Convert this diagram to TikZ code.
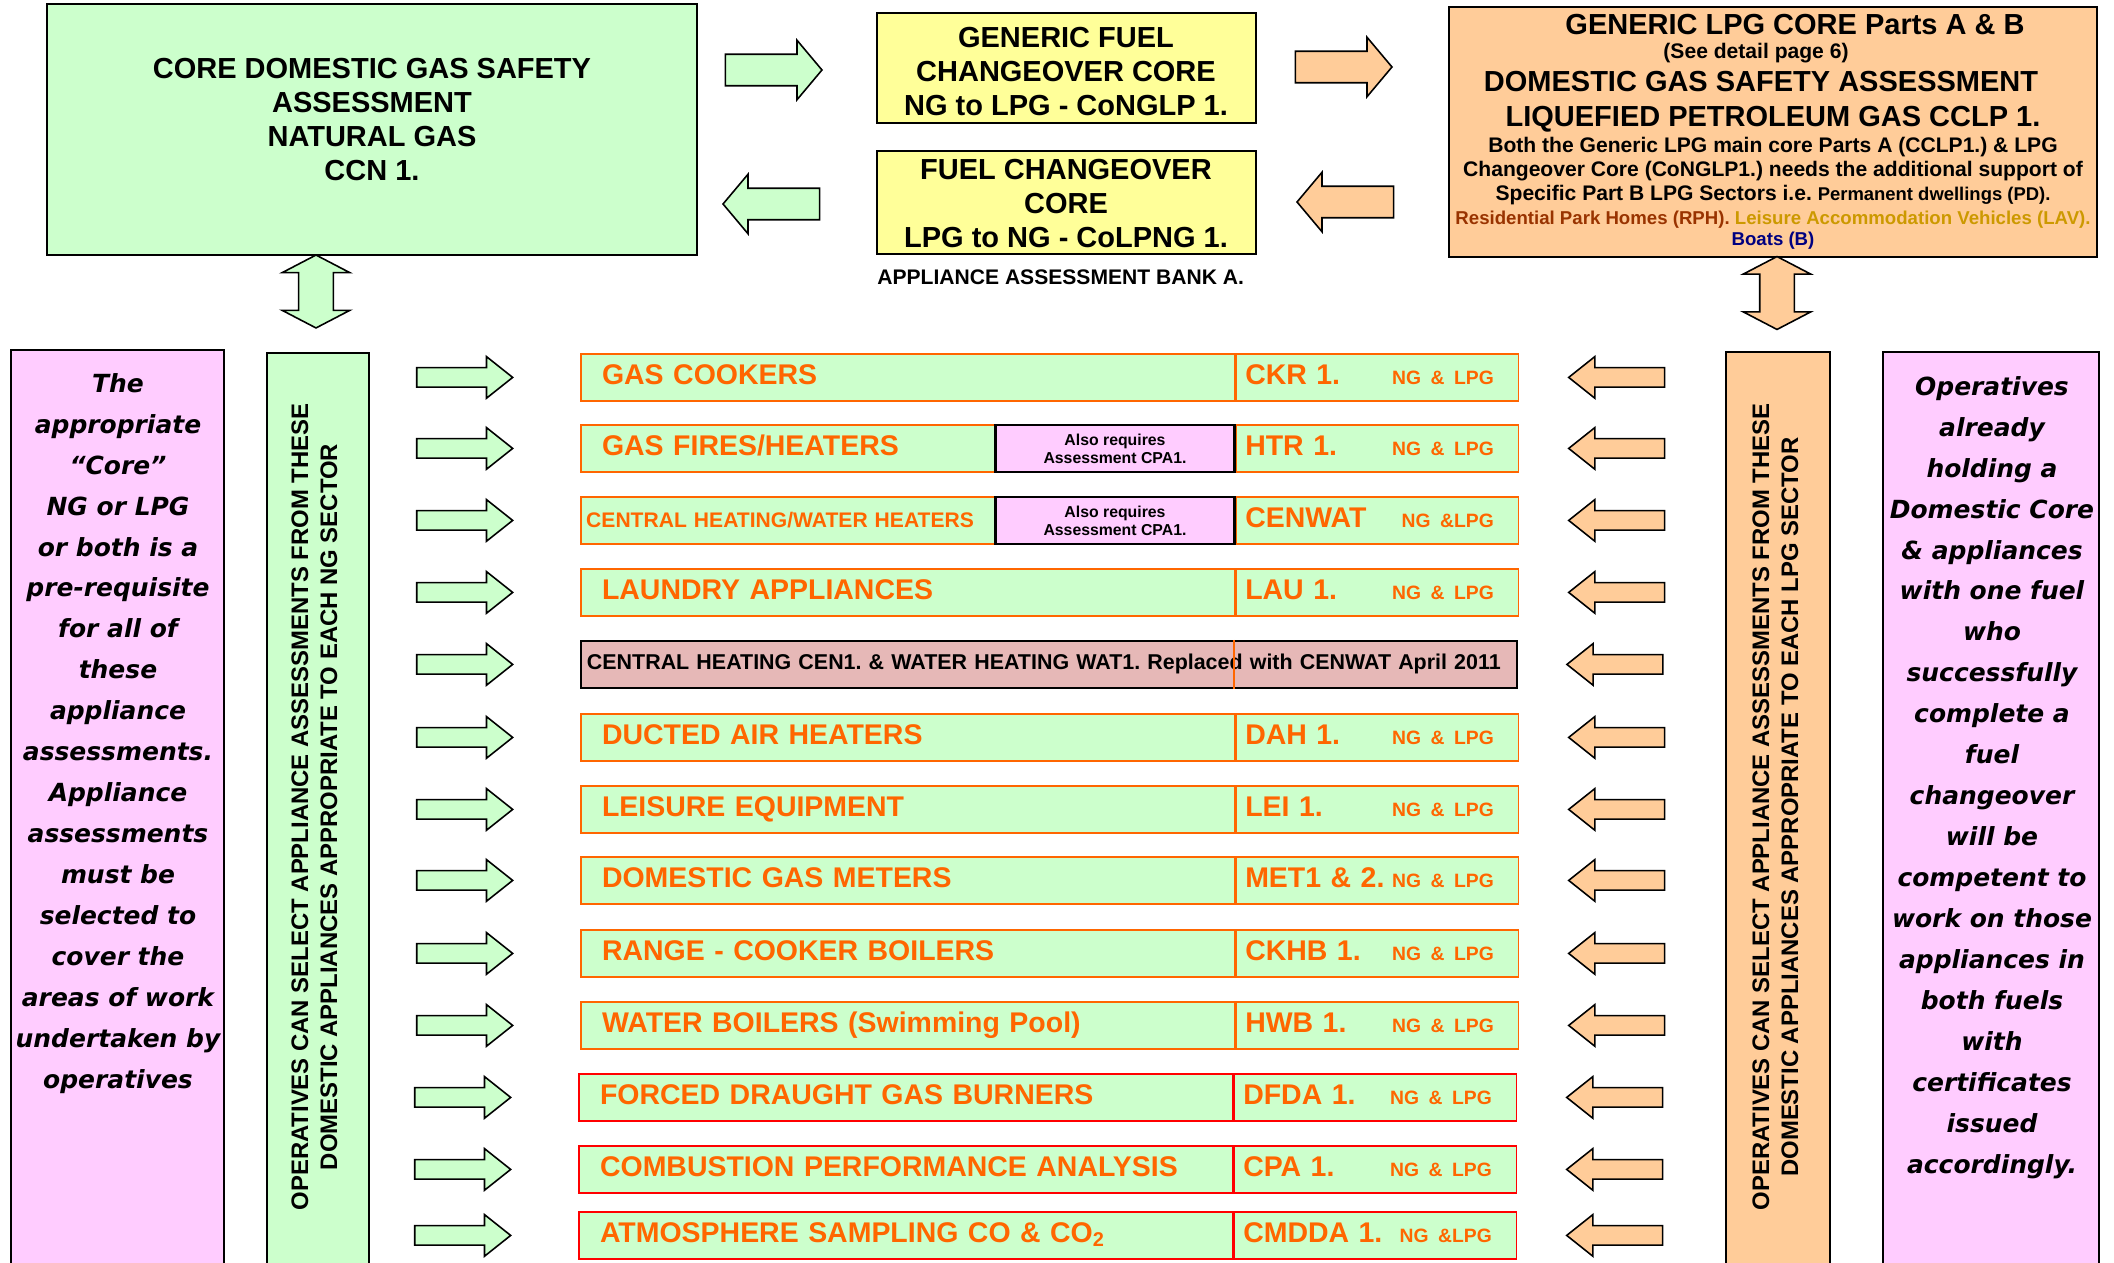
\documentclass[tikz,border=0pt]{standalone}
\usepackage{fontspec}
\setmainfont{Liberation Sans}
\newfontfamily\handfont{DejaVu Sans}
\usetikzlibrary{shapes.arrows, positioning, fit}

\definecolor{coregreen}{HTML}{CCFFCC}
\definecolor{coreyellow}{HTML}{FFFF99}
\definecolor{lpgorange}{HTML}{FFCC99}
\definecolor{notepink}{HTML}{FFCCFF}
\definecolor{oldrose}{HTML}{E6B8B7}
\definecolor{roworange}{HTML}{FF6600}
\definecolor{rowred}{HTML}{FF0000}
\definecolor{rphbrown}{HTML}{993300}
\definecolor{lavgold}{HTML}{CC9900}
\definecolor{boatblue}{HTML}{000080}

\newcommand{\fuels}[1]{\hfill{\fontsize{11}{13}\selectfont #1}\hspace*{9pt}}
\frenchspacing

\begin{document}
\begin{tikzpicture}[
    x=0.02cm, y=-0.02cm,
    box/.style={draw, line width=0.9pt, inner sep=0pt},
    bigtext/.style={font=\bfseries\fontsize{16.5}{19.3}\selectfont, align=center},
    bigarrow/.style={single arrow, draw, line width=0.9pt, inner xsep=0pt, inner ysep=8.5pt,
        single arrow head extend=8pt, single arrow tip angle=100, minimum height=55pt},
    uparrow/.style={double arrow, draw, line width=0.9pt, inner xsep=0pt, inner ysep=9.4pt,
        double arrow head extend=9.4pt, double arrow tip angle=125, minimum height=41.5pt, rotate=90},
    rowarrow/.style={single arrow, draw, line width=0.9pt, inner xsep=0pt, inner ysep=5.1pt,
        single arrow head extend=6.3pt, single arrow tip angle=77, minimum height=54.6pt},
    ngarrow/.style={rowarrow, fill=coregreen, left=37.6pt of #1},
    lparrow/.style={rowarrow, fill=lpgorange, shape border rotate=180, right=27.3pt of #1},
    item/.style={draw=roworange, line width=1.1pt, fill=coregreen, text=roworange,
        minimum height=26.7pt, text height=11.6pt, text depth=4pt, align=left},
    itemname/.style={item, anchor=north west, minimum width=372pt, inner xsep=12pt,
        text width=348pt, font=\bfseries\fontsize{16.2}{19}\selectfont},
    smallname/.style={inner xsep=3pt, text width=366pt, font=\bfseries\fontsize{12}{14}\selectfont},
    itemcode/.style={item, right=0pt of #1, minimum width=160.5pt, inner xsep=5pt,
        text width=150.5pt, font=\bfseries\fontsize{16.2}{19}\selectfont},
    redrow/.style={draw=rowred},
    cpabox/.style={draw=black, line width=1.2pt, fill=notepink, anchor=east, minimum width=136pt,
        minimum height=26.7pt, inner sep=0pt, align=center, font=\bfseries\fontsize{9}{10.2}\selectfont},
    oldrow/.style={draw=black, line width=1.1pt, fill=oldrose, anchor=north west, minimum width=532.6pt,
        minimum height=26.7pt, inner xsep=3.4pt, text width=525.8pt, align=left,
        text height=8.7pt, text depth=3pt, font=\bfseries\fontsize{12.2}{14}\selectfont},
    notetext/.style={font=\handfont\bfseries\itshape\fontsize{14.2}{23.3}\selectfont,
        align=center, inner sep=0pt, anchor=north},
    vtext/.style={rotate=90, align=center, font=\bfseries\fontsize{13.6}{16.5}\selectfont},
    lpgline/.style={anchor=base, inner sep=0pt, font=\bfseries\fontsize{12}{14}\selectfont},
    lpgbig/.style={font=\bfseries\fontsize{16.5}{19}\selectfont}
]

\fill[white] (0,0) rectangle (2114,1263);
\useasboundingbox (0,0) rectangle (2114,1263);

% === CORES ===

% natural gas core
\node[box, fill=coregreen, fit={(47,4) (697,255)}] (ccn) {};
\node[bigtext] (ccntext) at (372,119.5) {CORE DOMESTIC GAS SAFETY\\ASSESSMENT\\NATURAL GAS\\CCN 1.};

% changeover cores
\node[box, fill=coreyellow, fit={(877,13) (1256,123)}] (conglp) {};
\node[bigtext] (conglptext) at (1066,71.5) {GENERIC FUEL\\CHANGEOVER CORE\\NG to LPG - CoNGLP 1.};
\node[box, fill=coreyellow, fit={(877,151) (1256,254)}] (colpng) {};
\node[bigtext] (colpngtext) at (1066,203.5) {FUEL CHANGEOVER\\CORE\\LPG to NG - CoLPNG 1.};
\node[anchor=west, inner sep=0pt, font=\bfseries\fontsize{12}{14}\selectfont] (bank) at (877,277) {APPLIANCE ASSESSMENT BANK A.};

% LPG core
\node[box, fill=lpgorange, fit={(1449,7) (2097,257)}] (lpg) {};
\node[lpgline, lpgbig] (lpgtitle) at (1795,35) {GENERIC LPG CORE Parts A \& B};
\node[lpgline] (lpgsee) at (1756,59) {(See detail page 6)};
\node[lpgline, lpgbig] (lpgdgsa) at (1761,92) {DOMESTIC GAS SAFETY ASSESSMENT};
\node[lpgline, lpgbig] (lpgcclp) at (1773,127) {LIQUEFIED PETROLEUM GAS CCLP 1.};
\node[lpgline] (lpgboth) at (1773,153) {Both the Generic LPG main core Parts A (CCLP1.) \& LPG};
\node[lpgline] (lpgchange) at (1773,177) {Changeover Core (CoNGLP1.) needs the additional support of};
\node[lpgline] (lpgspec) at (1773,201) {Specific Part B LPG Sectors i.e. {\fontsize{10.5}{12}\selectfont Permanent dwellings (PD).}};
\node[lpgline, font=\bfseries\fontsize{10.6}{12}\selectfont] (lpgsect) at (1773,225) {\textcolor{rphbrown}{Residential Park Homes (RPH).} \textcolor{lavgold}{Leisure Accommodation Vehicles (LAV).}};
\node[lpgline, font=\bfseries\fontsize{10.6}{12}\selectfont, text=boatblue] (lpgboats) at (1773,246) {Boats (B)};

% block arrows between cores
\node[bigarrow, fill=coregreen, anchor=tip] (ngto) at (823,70) {};
\node[bigarrow, fill=coregreen, shape border rotate=180, anchor=tip] (ngfrom) at (722,204) {};
\node[bigarrow, fill=lpgorange, anchor=tip] (lpgto) at (1393,67) {};
\node[bigarrow, fill=lpgorange, shape border rotate=180, anchor=tip] (lpgfrom) at (1296,202) {};
\node[uparrow, fill=coregreen] (ngboth) at (316,291.5) {};
\node[uparrow, fill=lpgorange] (lpgboth) at (1777,293) {};

% === SIDE COLUMNS ===

\node[box, fill=notepink, fit={(11,350) (224,1290)}] (ngnote) {};
\node[notetext] (ngnotetext) at (118,373) {The\\appropriate\\“Core”\\NG or LPG\\or both is a\\pre-requisite\\for all of\\these\\appliance\\assessments.\\Appliance\\assessments\\must be\\selected to\\cover the\\areas of work\\undertaken by\\operatives};

\node[box, fill=coregreen, fit={(267,353) (369,1290)}] (ngsector) {};
\node[vtext] (ngsectortext) at (314.5,807) {OPERATIVES CAN SELECT APPLIANCE ASSESSMENTS FROM THESE\\DOMESTIC APPLIANCES APPROPRIATE TO EACH NG SECTOR};

\node[box, fill=lpgorange, fit={(1726,352) (1830,1290)}] (lpgsector) {};
\node[vtext] (lpgsectortext) at (1775.5,807) {OPERATIVES CAN SELECT APPLIANCE ASSESSMENTS FROM THESE\\DOMESTIC APPLIANCES APPROPRIATE TO EACH LPG SECTOR};

\node[box, fill=notepink, fit={(1883,352) (2099,1290)}] (lpgnote) {};
\node[notetext] (lpgnotetext) at (1992,376) {Operatives\\already\\holding a\\Domestic Core\\\& appliances\\with one fuel\\who\\successfully\\complete a\\fuel\\changeover\\will be\\competent to\\work on those\\appliances in\\both fuels\\with\\certificates\\issued\\accordingly.};

% === APPLIANCE ASSESSMENTS ===

% cookers
\node[itemname] (ckr) at (580,353) {GAS COOKERS};
\node[itemcode=ckr] (ckrcode) {CKR 1.\fuels{NG \& LPG}};
\node[ngarrow=ckr] (ckrng) {};
\node[lparrow=ckrcode] (ckrlpg) {};

% fires
\node[itemname] (htr) at (580,424) {GAS FIRES/HEATERS};
\node[cpabox] (htrcpa) at (htr.east) {Also requires\\Assessment CPA1.};
\node[itemcode=htr] (htrcode) {HTR 1.\fuels{NG \& LPG}};
\node[ngarrow=htr] (htrng) {};
\node[lparrow=htrcode] (htrlpg) {};

% central heating / water
\node[itemname, smallname] (cenwat) at (580,496) {CENTRAL HEATING/WATER HEATERS};
\node[cpabox] (cenwatcpa) at (cenwat.east) {Also requires\\Assessment CPA1.};
\node[itemcode=cenwat] (cenwatcode) {CENWAT\fuels{NG \&LPG}};
\node[ngarrow=cenwat] (cenwatng) {};
\node[lparrow=cenwatcode] (cenwatlpg) {};

% laundry
\node[itemname] (lau) at (580,568) {LAUNDRY APPLIANCES};
\node[itemcode=lau] (laucode) {LAU 1.\fuels{NG \& LPG}};
\node[ngarrow=lau] (laung) {};
\node[lparrow=laucode] (laulpg) {};

% replaced assessments
\node[oldrow] (cen) at (580,640) {CENTRAL HEATING CEN1. \& WATER HEATING WAT1. Replaced with CENWAT April 2011};
\coordinate (cenbar) at (1234,0);
\draw[roworange, line width=1.1pt] (cen.north -| cenbar) -- (cen.south -| cenbar);
\node[ngarrow=cen] (cenng) {};
\node[lparrow=cen] (cenlpg) {};

% ducted air
\node[itemname] (dah) at (580,713) {DUCTED AIR HEATERS};
\node[itemcode=dah] (dahcode) {DAH 1.\fuels{NG \& LPG}};
\node[ngarrow=dah] (dahng) {};
\node[lparrow=dahcode] (dahlpg) {};

% leisure
\node[itemname] (lei) at (580,785) {LEISURE EQUIPMENT};
\node[itemcode=lei] (leicode) {LEI 1.\fuels{NG \& LPG}};
\node[ngarrow=lei] (leing) {};
\node[lparrow=leicode] (leilpg) {};

% meters
\node[itemname] (met) at (580,856) {DOMESTIC GAS METERS};
\node[itemcode=met] (metcode) {MET1 \& 2.\fuels{NG \& LPG}};
\node[ngarrow=met] (metng) {};
\node[lparrow=metcode] (metlpg) {};

% range cookers
\node[itemname] (ckhb) at (580,929) {RANGE - COOKER BOILERS};
\node[itemcode=ckhb] (ckhbcode) {CKHB 1.\fuels{NG \& LPG}};
\node[ngarrow=ckhb] (ckhbng) {};
\node[lparrow=ckhbcode] (ckhblpg) {};

% water boilers
\node[itemname] (hwb) at (580,1001) {WATER BOILERS (Swimming Pool)};
\node[itemcode=hwb] (hwbcode) {HWB 1.\fuels{NG \& LPG}};
\node[ngarrow=hwb] (hwbng) {};
\node[lparrow=hwbcode] (hwblpg) {};

% forced draught
\node[itemname, redrow] (dfda) at (578,1073) {FORCED DRAUGHT GAS BURNERS};
\node[itemcode=dfda, redrow] (dfdacode) {DFDA 1.\fuels{NG \& LPG}};
\node[ngarrow=dfda] (dfdang) {};
\node[lparrow=dfdacode] (dfdalpg) {};

% combustion analysis
\node[itemname, redrow] (cpa) at (578,1145) {COMBUSTION PERFORMANCE ANALYSIS};
\node[itemcode=cpa, redrow] (cpacode) {CPA 1.\fuels{NG \& LPG}};
\node[ngarrow=cpa] (cpang) {};
\node[lparrow=cpacode] (cpalpg) {};

% atmosphere sampling
\node[itemname, redrow] (cmdda) at (578,1211) {ATMOSPHERE SAMPLING CO \& CO\textsubscript{2}};
\node[itemcode=cmdda, redrow] (cmddacode) {CMDDA 1.\fuels{NG \&LPG}};
\node[ngarrow=cmdda] (cmddang) {};
\node[lparrow=cmddacode] (cmddalpg) {};

\end{tikzpicture}
\end{document}
